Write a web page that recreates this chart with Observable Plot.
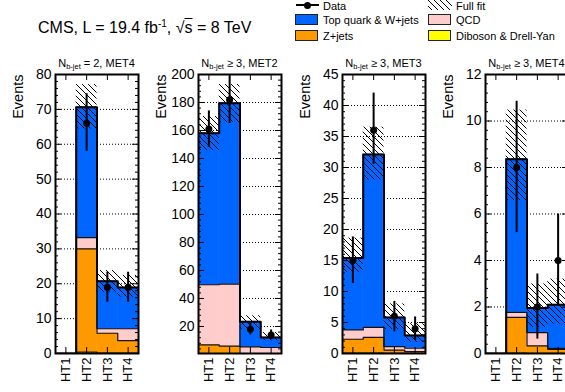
<!DOCTYPE html>
<html><head><meta charset="utf-8">
<script src="https://cdn.jsdelivr.net/npm/d3@7"></script>
<script src="https://cdn.jsdelivr.net/npm/@observablehq/plot@0.6"></script>
<style>
html,body{margin:0;padding:0;background:#fff;overflow:hidden;}
#fig{position:relative;width:600px;height:392px;font-family:"Liberation Sans",Arial,Helvetica,sans-serif;color:#000;}
.abs{position:absolute;white-space:nowrap;}
.lg{font-size:11px;line-height:11px;}
.box{position:absolute;box-sizing:border-box;border:1px solid #222;}
</style></head>
<body>
<svg width="0" height="0" style="position:absolute;left:0;top:0">
  <defs>
    <pattern id="hatch" patternUnits="userSpaceOnUse" width="6" height="6">
      <path d="M0,0L6,6M-1,5L1,7M5,-1L7,1" stroke="#000" stroke-width="1" fill="none"/>
    </pattern>
  </defs>
</svg>
<div id="fig"></div>
<script>
// ---------- data ----------
const bins = ["HT1", "HT2", "HT3", "HT4"];
const panelCut = ["= 2", "\u2265 3", "\u2265 3", "\u2265 3"];
const panelMet = ["MET4", "MET2", "MET3", "MET4"];
const yDomains = [[0, 80], [0.7, 200], [0, 45], [0, 12]];
const yTicks = [
  [0, 10, 20, 30, 40, 50, 60, 70, 80],
  [20, 40, 60, 80, 100, 120, 140, 160, 180, 200],
  [0, 5, 10, 15, 20, 25, 30, 35, 40, 45],
  [0, 2, 4, 6, 8, 10, 12]
];
// background components (per panel, per HT bin), stacked bottom -> top
const diboson = [[0, 0.4, 0.1, 0.1], [0.2, 0.2, 0.1, 0.1], [0.05, 0.05, 0.02, 0.02], [0, 0.02, 0.01, 0.01]];
const zjets   = [[0, 29.6, 5.7, 3.6], [6.6, 5.8, 0.4, 0.3], [2.25, 2.55, 0.53, 0.28], [0, 1.53, 0.32, 0.17]];
const qcd     = [[0, 3.2, 1.3, 3.4], [43.0, 44.3, 5.0, 4.6], [1.5, 1.6, 0.55, 0.55], [0, 0.22, 0.57, 0.04]];
const topW    = [[0, 37.4, 13.6, 11.8], [108.2, 129.2, 17.9, 7.1], [11.6, 27.9, 4.7, 2.05], [0, 6.59, 1.06, 1.88]];
// full fit uncertainty band
const fitLo = [[0, 64.4, 17.6, 16.2], [145.7, 165.9, 18.1, 9.8], [13.1, 28.0, 3.9, 1.8], [0, 6.58, 1.12, 1.27]];
const fitHi = [[0, 77.1, 23.8, 22.4], [170, 192.8, 27.6, 15.7], [18.6, 36.5, 8.0, 4.8], [0, 10.47, 2.99, 3.2]];
// data
const dataVal = [[null, 66, 19, 19], [161, 182, 18, 14], [15, 36, 6, 4], [null, 8, 2, 4]];
const dataLo  = [[null, 58, 14.7, 14.7], [148, 165, 14, 10.5], [11.3, 30.5, 3.5, 2.1], [null, 5.2, 0.62, 2.06]];
const dataHi  = [[null, 74.5, 23.3, 23.3], [174, 199, 22.5, 17.5], [18.8, 42, 8.4, 5.9], [null, 10.85, 3.42, 6.0]];

const compColors = ["#ffff00", "#ff9900", "#ffcccc", "#0066ff"];
const legendItems = [
  {label: "Top quark & W+jets", color: "#0066ff", col: 0, row: 1},
  {label: "Z+jets", color: "#ff9900", col: 0, row: 2},
  {label: "QCD", color: "#ffcccc", col: 1, row: 1},
  {label: "Diboson & Drell-Yan", color: "#ffff00", col: 1, row: 2}
];

// ---------- layout ----------
const FONT = '"Liberation Sans", Arial, Helvetica, sans-serif';
const FW = 83, FH = 279, ML = 55, MR = 5, MT = 24, MB = 39;
const fig = document.getElementById("fig");

function addDiv(html, cls, css) {
  const d = document.createElement("div");
  d.className = cls; d.innerHTML = html;
  Object.assign(d.style, css);
  fig.appendChild(d);
  return d;
}

// main title
addDiv('CMS, L = 19.4 fb<span style="position:relative;top:-6px;font-size:10px;">-1</span>, \u221A<span style="text-decoration:overline;">s</span> = 8 TeV',
  "abs", {left: "38px", top: "20px", fontSize: "16px", lineHeight: "16px"});

// legend
const colX = [295, 428], rowY = [0, 14, 30];
// Data entry
addDiv("", "abs", {left: "296px", top: "4px", width: "23px", height: "2px", background: "#000"});
addDiv("", "abs", {left: "304px", top: "1.5px", width: "7px", height: "7px", borderRadius: "50%", background: "#000"});
addDiv("Data", "abs lg", {left: "323px", top: "0.5px"});
// Full fit entry
addDiv('<svg width="24" height="10"><rect width="24" height="10" fill="url(#hatch)"/></svg>', "abs", {left: "428px", top: "0px", lineHeight: "0"});
addDiv("Full fit", "abs lg", {left: "456px", top: "0.5px"});
for (const it of legendItems) {
  const x = colX[it.col], y = rowY[it.row];
  addDiv("", "box", {left: x + "px", top: y + "px", width: "23px", height: "11px", background: it.color});
  addDiv(it.label, "abs lg", {left: (x + 28) + "px", top: (y + 0.5) + "px"});
}

// panels
for (let p = 0; p < 4; p++) {
  const svgLeft = Math.round(p * 143.3);
  const comps = [diboson[p], zjets[p], qcd[p], topW[p]];
  const cum = bins.map(() => 0);
  const rects = [], lines = [];
  comps.forEach((vals, k) => {
    vals.forEach((v, i) => {
      if (v > 0) rects.push({x1: i, x2: i + 1, y1: cum[i], y2: cum[i] + v, fill: compColors[k]});
      cum[i] += v;
    });
    const pts = cum.map((t, i) => ({x: i, y: t}));
    pts.push({x: bins.length, y: cum[cum.length - 1]});
    lines.push(pts);
  });
  const fitRows = bins.map((b, i) => ({x1: i, x2: i + 1, y1: fitLo[p][i], y2: fitHi[p][i]})).filter(d => d.y2 > d.y1);
  const dataRows = bins.map((b, i) => ({x: i + 0.5, v: dataVal[p][i], lo: dataLo[p][i], hi: dataHi[p][i]})).filter(d => d.v != null);
  const ticks = yTicks[p];
  const step = ticks[1] - ticks[0];
  const minor = [];
  for (let t = ticks[0] - step; t <= ticks[ticks.length - 1]; t += step / 5) {
    const tt = Math.round(t * 1000) / 1000;
    if (tt > yDomains[p][0] && tt < yDomains[p][1] && !ticks.includes(tt)) minor.push(tt);
  }
  const centers = bins.map((b, i) => i + 0.5);

  const el = Plot.plot({
    width: ML + FW + MR, height: MT + FH + MB,
    marginLeft: ML, marginRight: MR, marginTop: MT, marginBottom: MB,
    x: {domain: [0, bins.length], axis: null},
    y: {domain: yDomains[p], axis: null},
    style: {fontFamily: FONT, fontSize: "14px", background: "transparent", overflow: "visible", color: "#000"},
    marks: [
      Plot.ruleY(ticks, {y: d => d, stroke: "#000", strokeDasharray: "1,2", strokeWidth: 1}),
      Plot.rect(rects, {x1: "x1", x2: "x2", y1: "y1", y2: "y2", fill: "fill", stroke: "fill", strokeWidth: 0.6, clip: true}),
      ...lines.slice(0, 3).map(pts => Plot.line(pts, {x: "x", y: "y", curve: "step-after", stroke: "#111", strokeWidth: 1.2, clip: true})),
      Plot.line(lines[3], {x: "x", y: "y", curve: "step-after", stroke: "#000", strokeWidth: 2, clip: true}),
      Plot.rect(fitRows, {x1: "x1", x2: "x2", y1: "y1", y2: "y2", fill: "url(#hatch)", clip: true}),
      Plot.ruleX(dataRows, {x: "x", y1: "lo", y2: "hi", stroke: "#000", strokeWidth: 2}),
      Plot.dot(dataRows, {x: "x", y: "v", r: 3.5, fill: "#000"}),
      Plot.tickY(ticks, {y: d => d, insetRight: FW - 6, stroke: "#000"}),
      Plot.tickY(ticks, {y: d => d, insetLeft: FW - 6, stroke: "#000"}),
      Plot.tickY(minor, {y: d => d, insetRight: FW - 3, stroke: "#000"}),
      Plot.tickY(minor, {y: d => d, insetLeft: FW - 3, stroke: "#000"}),
      Plot.tickX(centers, {x: d => d, insetTop: FH - 6, stroke: "#000"}),
      Plot.tickX(centers, {x: d => d, insetBottom: FH - 6, stroke: "#000"}),
      Plot.frame({stroke: "#000", strokeWidth: 2}),
      Plot.text(ticks, {y: d => d, text: d => String(d), frameAnchor: "left", textAnchor: "end", dx: -4, fontSize: 14}),
      Plot.text(bins, {x: (d, i) => i + 0.5, text: d => d, frameAnchor: "bottom", rotate: -90, textAnchor: "end", lineAnchor: "middle", dy: 4, fontSize: 13}),
      Plot.text(["Events"], {text: d => d, frameAnchor: "top-left", rotate: -90, textAnchor: "end", lineAnchor: "middle", dx: -37, fontSize: 14.5})
    ]
  });
  el.style.position = "absolute";
  el.style.left = svgLeft + "px";
  el.style.top = "50px";
  fig.appendChild(el);

  addDiv('N<span style="font-size:7.5px;position:relative;top:2px;">b-jet</span> ' + panelCut[p] + ', ' + panelMet[p],
    "abs", {left: (svgLeft + ML + FW / 2 - 100) + "px", width: "200px", textAlign: "center", top: "58px", fontSize: "11px", lineHeight: "11px"});
}
</script>
</body></html>
